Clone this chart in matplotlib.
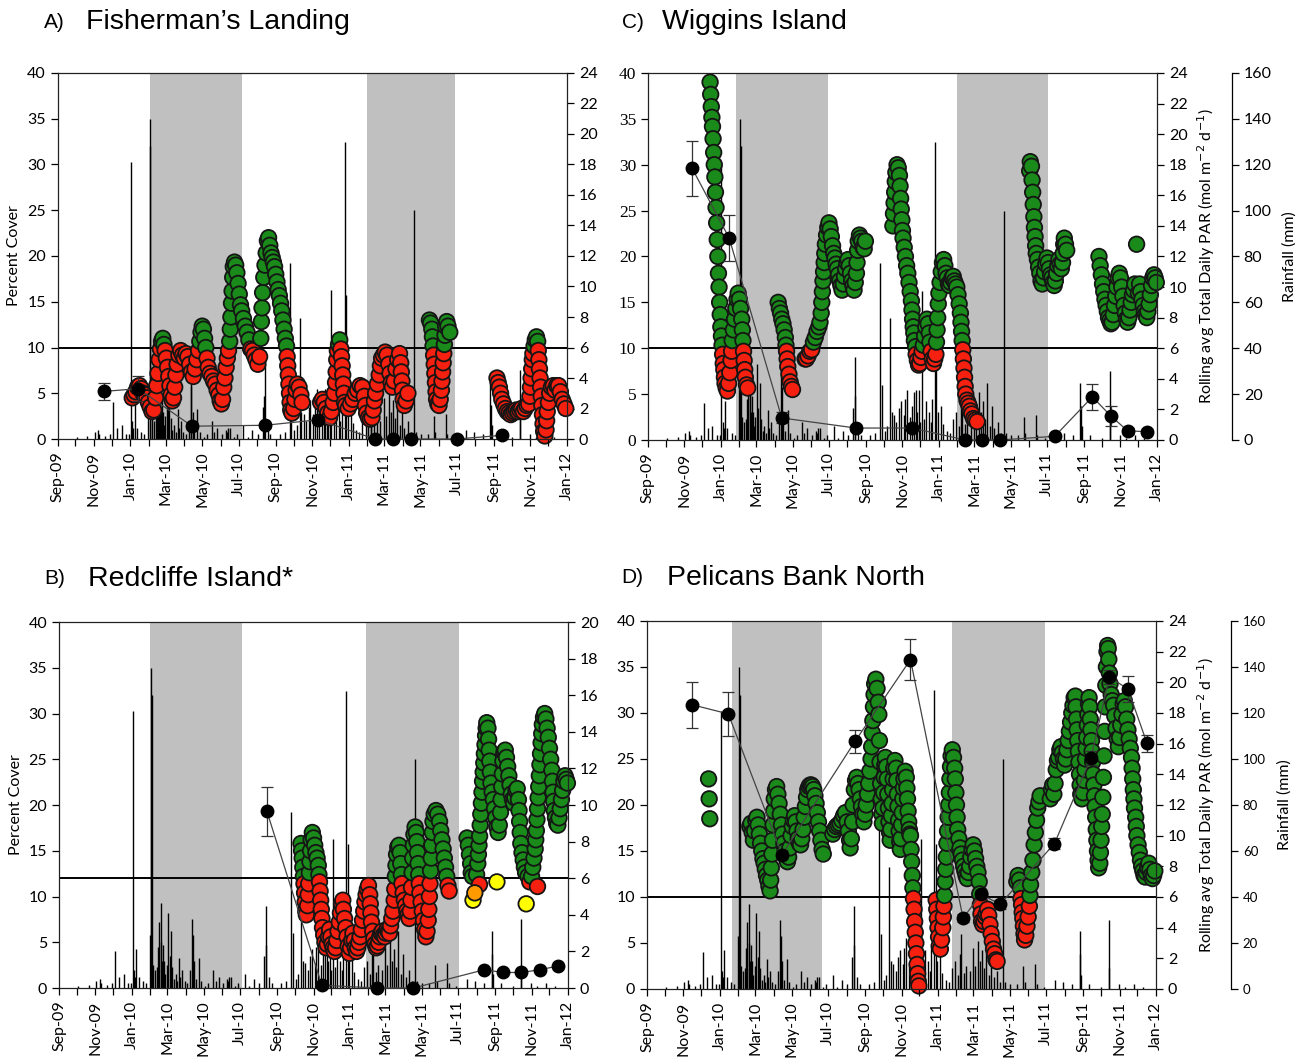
import numpy as np
from datetime import datetime
import matplotlib
matplotlib.use('Agg')
import matplotlib.pyplot as plt
import matplotlib.dates as mdates

plt.rcParams['font.family'] = ['Lato', 'DejaVu Sans']

# day offsets below are counted from 1 Sep 2009
T0 = mdates.date2num(datetime(2009, 9, 1))
X_MIN = mdates.date2num(datetime(2009, 9, 1))
X_MAX = mdates.date2num(datetime(2012, 1, 1))

GREEN = '#1a8a1a'
RED = '#f5200f'
SHADE = '#c0c0c0'

# ---------------- daily rainfall (mm), shared by all sites ----------------
RAIN_DAY = [32, 50, 62, 68, 70, 80, 88, 93, 100, 108, 115, 120, 123, 125, 127, 129,
            133, 140, 145, 152, 154, 155, 158, 161, 164, 166, 168, 170, 171, 173, 174,
            176, 178, 180, 183, 185, 187, 189, 192, 195, 198, 201, 203, 206, 210, 215,
            220, 223, 224, 226, 229, 234, 238, 245, 250, 258, 262, 267, 275, 281, 283,
            285, 288, 295, 300, 311, 318, 326, 335, 343, 346, 347, 352, 356, 372, 380,
            389, 391, 396, 400, 405, 408, 412, 416, 420, 423, 428, 430, 434, 438, 442,
            445, 448, 450, 453, 456, 458, 462, 466, 470, 473, 476, 481, 483, 486, 490,
            494, 500, 505, 510, 516, 520, 524, 525, 530, 534, 540, 546, 549, 554, 557,
            561, 564, 568, 572, 576, 580, 586, 591, 596, 600, 608, 620, 629, 632, 649,
            652, 665, 683, 697, 712, 724, 725, 726, 740, 760, 773, 774, 790, 800, 815, 830]
RAIN_MM = [1, 1.5, 3, 4, 2, 1.2, 2, 16, 5, 6, 2, 2, 121, 8, 5, 17,
           5, 3, 2, 23, 140, 128, 10, 8, 9, 18, 29, 20, 37, 12, 19,
           12, 6, 10, 33, 14, 25, 9, 4, 6, 3, 13, 5, 8, 3, 2,
           8, 30, 23, 12, 4, 13, 3, 1, 2, 8, 3, 5, 2, 4, 3,
           5, 5, 1, 2, 6, 1, 4, 2, 14, 19, 36, 5, 2, 2, 3,
           77, 24, 4, 6, 53, 12, 11, 8, 14, 17, 11, 18, 22, 10, 15,
           21, 22, 12, 22, 8, 65, 9, 17, 12, 8, 18, 130, 63, 12, 15,
           7, 4, 3, 9, 12, 6, 15, 24, 7, 10, 8, 18, 10, 21, 12,
           17, 9, 25, 6, 15, 5, 8, 3, 100, 3, 2, 2, 10, 3, 11,
           2, 1, 4, 3, 2, 25, 15, 6, 2, 1, 30, 9, 2, 1, 2, 1]

# ---------------- A) Fisherman's Landing ----------------
A_PAR_DAY = [125, 128, 131, 134, 137, 140, 143, 146, 149, 152, 155, 158, 161, 164, 166, 168,
             170, 172, 174, 176, 178, 180, 182, 184, 186, 188, 190, 192, 194, 196, 198, 200,
             203, 206, 209, 212, 215, 218, 221, 224, 227, 230, 233, 236, 238, 240, 242, 244,
             246, 248, 250, 252, 255, 258, 261, 264, 267, 270, 272, 274, 276, 278, 280, 282,
             284, 286, 288, 289, 290, 291, 292, 293, 294, 296, 298, 300, 302, 304, 306, 308,
             311, 314, 317, 320, 323, 326, 329, 332, 335, 338, 340, 341, 342, 343, 345, 347,
             349, 351, 353, 355, 357, 359, 361, 363, 365, 367, 369, 371, 373, 375, 377, 379,
             381, 383, 384, 385, 386, 387, 388, 389, 390, 392, 395, 397, 399, 401, 404, 407, 409,
             440, 443, 446, 449, 452, 455, 458, 461, 463, 465, 466, 467, 468, 470, 472, 474,
             475, 476, 477, 478, 479, 480, 482, 486, 490, 494, 498, 502, 506, 510, 513, 515,
             517, 520, 523, 526, 528, 530, 532, 535, 538, 540, 542, 545, 548, 551, 554, 556,
             558, 560, 563, 566, 569, 572, 574, 575, 576, 577, 578, 580, 583, 586,
             622, 624, 626, 627, 628, 629, 630, 631, 632, 633, 634, 636, 638, 640, 642, 643,
             644, 645, 646, 647, 648, 649, 651, 653, 656,
             735, 737, 739, 741, 743, 746, 749, 752, 755, 758, 761, 764, 767, 770, 773, 776,
             779, 782, 785, 788, 790, 791, 792, 793, 794, 795, 797, 799, 801, 803, 804, 805,
             806, 807, 808, 809, 810, 811, 812, 813, 815, 817, 818, 819, 821, 823, 826, 829,
             832, 835, 838, 841, 844, 847, 850]
A_PAR = [2.7, 2.9, 3.1, 3.4, 3.5, 3.3, 3.0, 2.9, 2.7, 2.4, 2.1, 1.8, 1.9, 2.7, 3.5, 4.3,
         5.2, 5.9, 6.4, 6.6, 6.2, 5.8, 5.3, 4.7, 4.1, 3.5, 2.9, 2.5, 2.7, 3.4, 4.2, 4.9,
         5.5, 5.8, 5.5, 5.3, 5.6, 5.4, 4.9, 4.4, 4.1, 4.6, 5.2, 5.8, 6.4, 7.0, 7.4, 7.2,
         6.6, 6.0, 5.3, 4.7, 4.3, 4.1, 3.8, 3.6, 3.2, 2.9, 2.5, 2.3, 2.6, 3.4, 4.0, 4.7,
         5.3, 5.8, 6.4, 7.2, 8.0, 8.9, 9.7, 10.6, 11.3, 11.6, 11.4, 10.9, 10.2, 9.5, 8.8, 8.4,
         7.9, 7.4, 7.0, 6.5, 5.9, 5.8, 5.5, 5.2, 4.9, 5.4, 6.6, 7.7, 8.6, 9.6, 10.6, 11.4,
         12.2, 13.0, 13.2, 12.7, 12.2, 11.9, 11.6, 11.3, 10.8, 10.3, 9.8, 9.4, 8.9, 8.4, 7.8, 7.2,
         6.6, 6.1, 5.4, 4.8, 4.2, 3.6, 3.0, 2.4, 1.9, 1.7, 2.0, 2.6, 3.2, 3.6, 3.4, 2.9, 2.4,
         2.4, 2.6, 2.4, 2.0, 1.7, 1.4, 1.8, 2.4, 3.0, 3.7, 4.4, 5.2, 5.8, 6.2, 6.5, 5.9,
         5.4, 4.8, 4.2, 3.6, 3.0, 2.4, 2.2, 2.0, 2.3, 2.6, 3.0, 3.2, 3.5, 3.4, 2.8, 2.2,
         1.7, 1.4, 1.3, 1.4, 1.9, 2.5, 3.0, 3.6, 4.2, 4.8, 5.3, 5.5, 5.7, 5.5, 4.9, 4.3,
         3.7, 3.4, 3.8, 4.6, 5.2, 5.6, 5.0, 4.4, 3.8, 3.2, 2.6, 2.2, 2.5, 3.0,
         7.8, 7.6, 7.2, 6.7, 6.1, 5.5, 4.9, 4.3, 3.7, 3.1, 2.6, 2.3, 2.2, 2.6, 3.2, 3.8,
         4.4, 5.0, 5.6, 6.2, 6.8, 7.4, 7.7, 7.4, 7.0,
         4.0, 3.7, 3.4, 3.0, 2.6, 2.3, 2.0, 1.8, 1.7, 1.6, 1.7, 1.8, 1.9, 1.8, 1.9, 2.0,
         1.8, 2.0, 2.2, 2.3, 2.8, 3.4, 4.0, 4.6, 5.2, 5.6, 6.1, 6.5, 6.7, 6.4, 5.8, 5.2,
         4.6, 4.0, 3.4, 2.8, 2.2, 1.6, 1.0, 0.5, 0.2, 0.6, 1.2, 1.8, 2.4, 3.0, 3.4, 3.5,
         3.2, 3.5, 3.5, 3.1, 2.6, 2.3, 2.0]
A_COVER_DATE = ['2009-11-17', '2010-01-14', '2010-04-14', '2010-08-14', '2010-11-11',
                '2011-02-14', '2011-03-16', '2011-04-15', '2011-07-01', '2011-09-14']
A_COVER = [5.2, 5.5, 1.4, 1.5, 2.1, 0.0, 0.0, 0.0, 0.0, 0.4]
A_COVER_ERR = [0.95, 1.4, 0.3, 0.3, 0.3, 0, 0, 0, 0, 0.2]
A_SHADE = [('2010-02-03', '2010-07-07'), ('2011-01-31', '2011-06-28')]

# ---------------- B) Redcliffe Island ----------------
B_PAR_DAY = [405, 406, 407, 408, 409, 410, 411, 412, 413, 414, 416, 417, 418, 419, 420, 421,
             422, 424, 426, 428, 430, 432, 434, 435, 436, 437, 438, 439, 440, 441, 443, 445,
             447, 449, 451, 453, 455, 457, 459, 461, 463, 465, 467, 469, 471, 473, 475, 476,
             478, 480, 482, 484, 486, 488, 490, 492, 494, 496, 498, 500, 502, 504, 506, 508,
             510, 512, 514, 516, 518, 520, 521, 522, 523, 525, 527, 529, 531, 533, 535, 537,
             539, 541, 543, 545, 547, 549, 551, 553, 555, 557, 559, 561, 562, 563, 564, 565,
             567, 569, 571, 572, 573, 574, 576, 578, 580, 582, 584, 586, 588, 589, 590, 591,
             592, 593, 594, 596, 598, 599, 600, 601, 602, 603, 604, 606, 608, 610, 612, 614,
             616, 618, 619, 620, 621, 622, 623, 624, 625, 626, 628, 631, 634, 637, 639, 641,
             643, 645, 647, 649, 651, 653,
             683, 685, 687, 689, 690, 692, 699, 701, 702, 703, 704, 705, 706, 707, 708, 709,
             710, 711, 712, 713, 714, 715, 716, 718, 719, 720, 721, 722, 723, 725, 727, 729,
             731, 733, 735, 737, 739, 740, 741, 742, 743, 745, 747, 749, 751, 753, 755, 757,
             759, 761, 763, 765, 767, 769, 770, 771, 772, 773, 775, 777, 779, 781, 785, 788,
             791, 793, 795, 797, 798, 799, 800, 801, 802, 803, 804, 805, 806, 807, 808, 809,
             811, 813, 815, 817, 819, 821, 823, 825, 826, 827, 828, 829, 831, 833, 835, 837,
             839, 841, 843, 845, 847, 849, 851]
B_PAR = [7.9, 7.5, 7.1, 6.6, 6.1, 5.7, 5.2, 4.7, 4.2, 4.0, 4.5, 5.1, 5.7, 6.3, 6.9, 7.5,
         8.1, 8.5, 8.2, 7.8, 7.4, 7.1, 6.7, 6.2, 5.8, 5.3, 4.8, 4.3, 3.8, 3.3, 2.9, 2.5,
         2.2, 2.4, 2.8, 3.2, 2.8, 2.4, 2.2, 2.0, 2.2, 2.6, 3.1, 3.6, 4.1, 4.6, 4.8, 4.3,
         3.8, 3.3, 2.8, 2.3, 1.9, 2.2, 2.6, 3.0, 2.6, 2.2, 2.0, 2.2, 2.5, 2.8, 3.2, 3.7,
         4.2, 4.7, 5.1, 5.4, 5.6, 5.1, 4.6, 4.1, 3.6, 3.1, 2.7, 2.4, 2.2, 2.3, 2.5, 2.8,
         3.0, 3.1, 2.9, 2.8, 3.0, 3.2, 3.1, 3.0, 3.4, 3.8, 4.2, 4.8, 5.4, 6.1, 6.7, 7.3,
         7.7, 7.8, 7.4, 6.8, 6.2, 5.7, 5.2, 4.8, 4.5, 4.2, 4.0, 3.8, 4.2, 4.8, 5.5, 6.3,
         7.1, 7.8, 8.4, 8.8, 8.5, 8.0, 7.4, 6.8, 6.2, 5.7, 5.2, 4.7, 4.2, 3.7, 3.2, 2.8,
         3.1, 3.7, 4.3, 5.0, 5.7, 6.4, 7.1, 7.8, 8.5, 9.1, 9.5, 9.7, 9.5, 9.1, 8.6, 8.1,
         7.6, 7.1, 6.6, 6.1, 5.6, 5.3,
         8.2, 7.8, 7.3, 6.8, 6.3, 6.1, 6.2, 6.8, 7.3, 7.8, 8.3, 8.9, 9.5, 10.1, 10.7, 11.3,
         11.8, 12.3, 12.8, 13.3, 13.8, 14.2, 14.5, 14.2, 13.6, 13.0, 12.4, 11.8, 11.2, 10.7, 10.3, 9.8,
         9.3, 8.8, 8.5, 8.9, 9.6, 10.3, 11.0, 11.7, 12.4, 12.9, 13.0, 12.6, 12.1, 11.6, 11.1, 10.6,
         10.3, 10.1, 10.4, 10.8, 10.9, 10.3, 9.7, 9.1, 8.5, 7.9, 7.4, 7.0, 6.6, 6.3, 6.1, 5.8,
         6.1, 6.6, 7.1, 7.6, 8.1, 8.6, 9.2, 9.8, 10.4, 11.0, 11.6, 12.2, 12.8, 13.4, 13.9, 14.4,
         14.8, 15.0, 14.7, 14.2, 13.7, 13.1, 12.5, 11.9, 11.3, 10.7, 10.2, 9.7, 9.3, 9.0, 8.9, 9.3,
         9.8, 10.3, 10.8, 11.3, 11.6, 11.4, 11.2]
# days flagged in yellow / orange at Redcliffe
B_FLAG_DAY = [693, 696, 733, 782]
B_FLAG_PAR = [4.8, 5.2, 5.8, 4.6]
B_FLAG_COLOR = ['#ffff00', '#ff9a00', '#ffff00', '#ffff00']
B_RED_DAY = [703, 800]
B_RED_PAR = [5.7, 5.6]
B_COVER_DATE = ['2010-08-15', '2010-11-15', '2011-02-16', '2011-04-17', '2011-08-14',
                '2011-09-14', '2011-10-15', '2011-11-15', '2011-12-15']
B_COVER = [19.3, 0.3, 0.0, 0.0, 2.0, 1.7, 1.7, 2.0, 2.4]
B_COVER_ERR = [2.7, 0, 0, 0, 0, 0, 0, 0, 0]
B_SHADE = [('2010-02-01', '2010-07-05'), ('2011-01-28', '2011-07-03')]

# ---------------- C) Wiggins Island ----------------
C_PAR_DAY = [104, 105, 106, 107, 108, 109, 110, 111, 112, 113, 114, 115, 116, 117, 118, 119,
             120, 121, 122, 123, 124, 125, 126, 127, 128, 129, 131, 133, 135, 137, 139, 140,
             141, 143, 145, 147, 149, 151, 153, 155, 157, 158, 159, 160, 161, 162, 163, 165, 167,
             218, 220, 222, 224, 226, 228, 230, 231, 232, 233, 234, 236, 238, 240, 242,
             263, 265, 268, 271, 274, 277, 280, 283, 286, 288, 290, 291, 292, 293, 294, 295,
             296, 297, 299, 301, 303, 305, 307, 309, 311, 313, 315, 317, 319, 321, 323, 325,
             327, 329, 331, 333, 335, 337, 339, 341, 343, 345, 347, 349, 350, 351, 352, 354,
             356, 358, 360, 362, 364,
             410, 411, 412, 413, 414, 415, 417, 419, 421, 422, 423, 424, 425, 426, 427, 429,
             431, 433, 435, 437, 439, 441, 442, 443, 444, 445, 446, 448, 449, 451, 453, 455,
             457, 459, 461, 463, 465, 467, 469, 471, 472, 474, 476, 478, 480, 482, 483, 484,
             485, 486, 487, 489, 491, 493, 495, 497, 499, 501, 503, 505, 507, 509, 511, 513,
             515, 517, 519, 521, 523, 524, 525, 526, 527, 528, 529, 530, 531, 532, 534, 536,
             538, 540, 542, 545, 548, 551,
             639, 640, 642, 643, 644, 645, 646, 647, 648, 649, 650, 652, 654, 656, 658, 660,
             662, 664, 666, 668, 670, 672, 674, 676, 678, 680, 682, 684, 686, 688, 690, 692,
             694, 695, 696, 697, 699, 701,
             755, 757, 759, 761, 763, 765, 767, 769, 771, 773, 775, 777, 779, 781, 783, 785,
             787, 789, 791, 793, 795, 797, 799, 801, 803, 805, 807, 809, 811, 813, 815, 818,
             821, 823, 825, 827, 829, 831, 833, 835, 837, 839, 841, 843, 845, 847, 849, 851]
C_PAR = [23.4, 22.6, 21.8, 21.1, 20.5, 19.7, 18.8, 18.0, 17.2, 16.2, 15.2, 14.2, 13.1, 12.0, 10.9, 10.0,
         9.0, 8.2, 7.4, 6.8, 6.2, 5.6, 5.0, 4.6, 4.1, 3.7, 3.4, 3.2, 3.7, 4.4, 5.2, 5.8,
         6.5, 7.2, 7.9, 8.6, 9.2, 9.6, 9.2, 8.6, 7.9, 7.2, 6.5, 5.8, 5.2, 4.6, 4.1, 3.6, 3.4,
         9.0, 8.6, 8.3, 7.9, 7.6, 7.2, 6.7, 6.2, 5.8, 5.3, 4.8, 4.3, 3.8, 3.5, 3.3,
         5.3, 5.3, 5.5, 5.8, 5.9, 6.4, 6.7, 7.1, 7.4, 7.7, 8.3, 9.0, 9.7, 10.4, 11.0, 11.6,
         12.2, 12.8, 13.4, 13.9, 14.2, 13.8, 13.3, 12.7, 12.2, 11.9, 11.5, 11.2, 10.8, 10.4, 10.1, 9.8,
         10.2, 10.7, 11.2, 11.6, 11.8, 11.4, 10.9, 10.4, 10.1, 9.8, 10.3, 10.9, 11.6, 12.4, 13.0, 13.4,
         13.2, 13.0, 12.6, 12.5, 13.0,
         14.0, 14.8, 15.5, 16.2, 16.9, 17.5, 18.0, 17.8, 17.3, 16.6, 15.8, 15.1, 14.4, 13.7, 13.2, 12.6,
         12.0, 11.4, 10.9, 10.3, 9.7, 9.1, 8.5, 7.9, 7.4, 7.0, 6.5, 6.1, 5.6, 5.2, 4.9, 5.0,
         5.4, 5.8, 6.2, 6.8, 7.4, 7.9, 7.6, 7.0, 6.4, 5.8, 5.3, 5.0, 5.3, 5.6, 6.4, 7.2,
         8.0, 8.9, 9.6, 10.3, 11.0, 11.6, 11.8, 11.4, 10.9, 10.6, 10.2, 10.1, 10.3, 10.6, 10.7, 10.4,
         10.2, 10.0, 9.5, 8.9, 8.3, 7.7, 7.1, 6.5, 5.9, 5.3, 4.7, 4.1, 3.5, 3.0, 2.6, 2.4,
         2.2, 1.9, 1.7, 1.4, 1.3, 1.2,
         17.6, 18.2, 17.9, 17.0, 16.2, 15.4, 14.6, 13.9, 13.3, 12.7, 12.2, 11.8, 11.3, 10.9, 10.4, 10.2,
         10.6, 11.0, 11.5, 11.9, 11.6, 11.2, 10.8, 10.6, 10.3, 10.1, 10.4, 10.9, 11.4, 11.8, 11.5, 11.2,
         11.6, 12.2, 12.8, 13.2, 12.8, 12.4,
         12.0, 11.4, 10.8, 10.2, 9.7, 9.2, 8.8, 8.4, 8.0, 7.8, 7.6, 7.7, 8.2, 8.8, 9.4, 10.0,
         10.6, 10.9, 10.6, 10.0, 9.4, 8.8, 8.3, 7.9, 7.7, 8.0, 8.5, 9.0, 9.5, 9.8, 10.2, 12.8,
         9.6, 10.2, 9.7, 9.2, 8.8, 8.4, 8.2, 8.0, 8.4, 8.9, 9.5, 10.1, 10.6, 10.8, 10.6, 10.3]
C_COVER_DATE = ['2009-11-14', '2010-01-15', '2010-04-13', '2010-08-15', '2010-11-17',
                '2011-02-14', '2011-03-14', '2011-04-14', '2011-07-14', '2011-09-15',
                '2011-10-16', '2011-11-13', '2011-12-15']
C_COVER = [29.6, 22.0, 2.4, 1.3, 1.3, 0.0, 0.0, 0.0, 0.4, 4.7, 2.6, 1.0, 0.9]
C_COVER_ERR = [3.0, 2.5, 0.6, 0.3, 0.3, 0, 0, 0, 0.2, 1.4, 1.1, 0.3, 0.3]
C_SHADE = [('2010-01-26', '2010-06-29'), ('2011-01-31', '2011-07-03')]

# ---------------- D) Pelicans Bank North ----------------
D_PAR_DAY = [103, 104, 105,
             172, 174, 176, 178, 180, 182, 184, 186, 188, 190, 192, 194, 196, 198, 200, 202,
             204, 206, 207, 208, 209, 210, 211, 212, 213, 215, 217, 219, 221, 223, 225, 227,
             229, 231, 233, 235, 237, 239, 241, 243, 245, 247, 249, 251, 253, 255, 257, 259,
             261, 263, 265, 267, 269, 271, 273, 275, 277, 279, 281, 283, 285, 287, 289, 291,
             293, 295,
             311, 314, 317, 320, 323, 326, 329, 332, 335, 337, 339, 340, 342, 344, 345, 347,
             349, 351, 353, 355, 357, 359, 361, 363, 365, 367, 369, 371, 373, 375, 376, 377,
             378, 379, 380, 381, 383, 385, 387,
             388, 389, 390, 391, 392, 393, 394, 395, 396, 397, 398, 399, 401, 402, 403, 404,
             405, 406, 407, 408, 409, 410, 411, 412, 413, 415, 417, 418, 419, 420, 421, 422,
             423, 424, 425, 426, 427, 428, 429, 430, 432, 434, 435, 436, 437, 438, 439, 440,
             441, 442, 443, 444, 445, 446, 447, 448, 449, 450, 451, 452, 453, 454, 455,
             484, 485, 486, 487, 488, 489, 491, 493, 495, 496, 497, 498, 499, 500, 501, 502,
             503, 504, 505, 506, 507, 508, 509, 511, 513, 515, 516, 517, 518, 519, 520, 522,
             524, 526, 528, 530, 532, 534, 536, 538, 540, 542, 544, 546, 548, 550, 552, 554,
             556, 557, 558, 559, 560, 562, 564, 566, 568, 570, 572, 574, 576, 578, 580, 582,
             584, 586,
             619, 621, 623, 625, 626, 627, 628, 629, 630, 631, 632, 634, 636, 638, 640, 641,
             642, 644, 646, 648, 650, 652, 654, 656, 658,
             675, 677, 679, 681, 683, 685, 687, 689, 691, 693, 695, 697, 699, 701, 703, 705,
             707, 709, 711, 713, 715, 717, 718, 719, 720, 721, 722, 723, 724, 725, 726, 728,
             730, 732, 733, 734, 735, 736, 737, 738, 739, 740, 741, 742, 743, 744, 745, 746,
             747, 748, 749, 750, 751, 752, 753, 754, 755, 756, 758, 759, 760, 761, 762, 763,
             764, 765, 766, 767, 768, 769, 770, 771, 772, 773, 774, 775, 777, 779, 781, 783,
             785, 787, 789, 791, 793, 795, 797, 799, 801, 803, 805, 807, 809, 811, 812, 813,
             814, 815, 816, 818, 819, 820, 822, 824, 826, 828, 830, 832, 834, 836, 838, 840,
             842, 844, 846, 848, 850]
D_PAR = [13.7, 12.4, 11.1,
         10.6, 10.8, 10.2, 9.7, 10.3, 11.0, 11.2, 10.7, 10.1, 9.5, 9.0, 8.5, 8.2, 7.8, 7.4, 7.1,
         6.7, 6.4, 7.1, 7.9, 8.8, 9.7, 10.7, 11.6, 12.4, 13.0, 13.2, 12.7, 12.1, 11.4, 10.7, 10.1,
         9.5, 9.0, 8.6, 8.3, 8.6, 9.2, 10.0, 10.6, 11.0, 11.3, 10.9, 10.3, 9.8, 9.5, 9.4, 9.8,
         10.4, 11.2, 11.9, 12.5, 13.0, 13.2, 13.3, 13.3, 13.2, 13.0, 12.6, 12.1, 11.5, 10.9, 10.3, 9.7,
         9.1, 8.8,
         10.1, 10.4, 10.6, 10.7, 10.8, 11.0, 11.3, 11.5, 10.9, 10.3, 9.7, 9.2, 9.8, 10.9, 12.0, 13.0,
         13.6, 13.8, 13.4, 13.0, 12.4, 11.9, 11.4, 10.9, 11.4, 12.0, 12.7, 13.4, 14.2, 15.0, 15.8, 16.7,
         17.5, 18.4, 19.2, 19.9, 20.2, 19.6, 18.7,
         17.9, 16.2, 14.8, 13.4, 12.4, 11.4, 10.8, 11.8, 12.8, 13.8, 14.6, 15.1, 14.5, 13.7, 12.7, 11.8,
         10.9, 10.2, 9.7, 10.4, 11.3, 12.1, 13.0, 13.7, 14.4, 14.9, 14.4, 13.6, 12.7, 11.9, 11.0, 10.3,
         9.6, 9.1, 9.8, 10.7, 11.5, 12.4, 13.1, 13.7, 14.2, 13.8, 13.1, 12.4, 11.6, 10.9, 10.4, 10.1,
         10.0, 9.1, 8.3, 7.4, 6.6, 5.9, 5.2, 4.4, 3.7, 3.0, 2.3, 1.6, 1.0, 0.5, 0.2,
         5.8, 5.2, 4.6, 4.0, 3.4, 2.8, 2.6, 3.2, 4.0, 4.7, 5.4, 6.1, 7.0, 7.8, 8.6, 9.5,
         10.3, 11.2, 12.0, 12.8, 13.7, 14.5, 15.2, 15.6, 15.1, 14.4, 13.7, 12.8, 12.0, 11.2, 10.4, 9.8,
         9.2, 8.8, 8.4, 8.0, 7.7, 7.4, 7.2, 7.6, 8.0, 8.6, 9.1, 9.4, 9.0, 8.5, 8.0, 7.6,
         7.0, 6.2, 5.5, 4.9, 4.4, 4.2, 4.4, 4.7, 4.9, 5.2, 4.8, 4.2, 3.6, 3.1, 2.6, 2.3,
         1.9, 1.8,
         7.0, 7.4, 7.1, 6.6, 5.9, 5.5, 5.0, 4.6, 4.1, 3.6, 3.2, 3.5, 4.1, 4.7, 5.4, 6.1,
         6.8, 7.6, 8.4, 9.4, 10.2, 11.0, 11.8, 12.2, 12.6,
         12.4, 13.0, 13.3, 12.7, 13.4, 14.3, 14.9, 15.1, 15.6, 15.8, 15.4, 15.0, 14.6, 15.0, 15.6, 16.2,
         16.8, 17.4, 18.0, 18.5, 19.0, 19.1, 18.4, 17.6, 16.9, 16.2, 15.5, 14.8, 14.0, 13.3, 12.7, 12.4,
         12.8, 13.6, 14.3, 15.0, 15.7, 16.4, 17.2, 17.9, 18.6, 19.0, 18.4, 17.6, 16.9, 16.2, 15.5, 14.8,
         14.0, 13.3, 12.6, 11.9, 11.2, 10.4, 9.7, 9.0, 8.4, 7.9, 8.2, 8.9, 9.7, 10.6, 11.4, 12.5,
         13.8, 15.2, 16.8, 18.4, 19.8, 21.0, 22.0, 22.4, 22.2, 21.5, 20.6, 19.9, 19.2, 18.8, 18.5, 17.8,
         17.0, 16.3, 15.8, 16.4, 17.2, 17.9, 18.6, 18.8, 18.4, 17.6, 16.9, 16.3, 15.7, 15.1, 14.4, 13.7,
         13.0, 12.4, 11.8, 11.2, 10.6, 10.0, 9.4, 8.9, 8.4, 8.0, 7.7, 7.4, 7.3, 7.6, 7.9, 8.2,
         7.8, 7.4, 7.2, 7.4, 7.7]
D_COVER_DATE = ['2009-11-15', '2010-01-15', '2010-04-15', '2010-08-15', '2010-11-16',
                '2011-02-12', '2011-03-14', '2011-04-15', '2011-07-15', '2011-09-14',
                '2011-10-15', '2011-11-15', '2011-12-17']
D_COVER = [30.9, 29.9, 14.6, 26.9, 35.8, 7.7, 10.3, 9.2, 15.8, 25.1, 33.9, 32.6, 26.7]
D_COVER_ERR = [2.5, 2.4, 0.5, 1.3, 2.2, 0.4, 0.5, 0.5, 0.6, 0.8, 0.8, 1.4, 0.9]
D_SHADE = [('2010-01-21', '2010-06-21'), ('2011-01-25', '2011-06-29')]

PAR_THRESHOLD = 6
DOT_SIZE = 125


def draw_panel(fig, rect, par_day, par, par_top, cover_date, cover, cover_err, shade,
               rain_axis=False, rain_fs=11, left_label=False, left_serif=False):
    ax = fig.add_axes(rect)
    ax_rain = ax.twinx()
    ax_par = ax.twinx()
    ax_rain.set_zorder(1)
    ax_par.set_zorder(2)
    ax.set_zorder(3)
    for a in (ax, ax_rain, ax_par):
        a.patch.set_visible(False)

    # wet-season shading and daily rainfall
    for start, end in shade:
        ax_rain.axvspan(mdates.datestr2num(start), mdates.datestr2num(end),
                        color=SHADE, lw=0, zorder=0)
    ax_rain.vlines(T0 + np.asarray(RAIN_DAY), 0, RAIN_MM, color='black', lw=1.0, zorder=1)
    ax_rain.set_ylim(0, 160)

    # rolling PAR, coloured against the light requirement
    x_par = T0 + np.asarray(par_day)
    par = np.asarray(par)
    cols = np.where(par >= PAR_THRESHOLD, GREEN, RED)
    ax_par.axhline(PAR_THRESHOLD, color='black', lw=1.4, zorder=1)
    ax_par.scatter(x_par, par, s=DOT_SIZE, c=cols, edgecolors='#151515', linewidths=1.3,
                   zorder=2, clip_on=False)
    ax_par.set_ylim(0, par_top)
    ax_par.set_yticks(np.arange(0, par_top + 1, 2))

    # percent cover with standard errors
    x_cov = mdates.datestr2num(cover_date)
    ax.plot(x_cov, cover, color='#444444', lw=0.9, zorder=3, clip_on=False)
    ax.errorbar(x_cov, cover, yerr=cover_err, fmt='none', ecolor='#333333',
                elinewidth=0.9, capsize=4.5, capthick=0.9, zorder=3)
    ax.plot(x_cov, cover, 'o', color='black', ms=9, zorder=4, clip_on=False)
    ax.set_ylim(0, 40)
    ax.set_yticks(range(0, 41, 5))
    ax.set_xlim(X_MIN, X_MAX)

    ax.xaxis.set_major_locator(mdates.MonthLocator(bymonth=[1, 3, 5, 7, 9, 11]))
    ax.xaxis.set_minor_locator(mdates.MonthLocator())
    ax.xaxis.set_major_formatter(mdates.DateFormatter('%b-%y'))
    ax.tick_params(axis='x', which='both', direction='out', length=5, width=0.9,
                   labelsize=11.5, rotation=90, pad=4)
    if left_serif:
        ax.tick_params(axis='y', direction='out', length=5, width=0.9, labelsize=12.5,
                       labelfontfamily='Liberation Serif')
    else:
        ax.tick_params(axis='y', direction='out', length=5, width=0.9, labelsize=11.5)
    ax_par.tick_params(axis='y', direction='out', length=5, width=0.9, labelsize=11.5)

    for side in ('left', 'bottom', 'top'):
        ax.spines[side].set_linewidth(0.9)
        ax.spines[side].set_color('#222222')
    ax.spines['right'].set_visible(False)
    for side in ('left', 'bottom', 'top'):
        ax_par.spines[side].set_visible(False)
        ax_rain.spines[side].set_visible(False)
    ax_par.spines['right'].set_linewidth(0.9)
    ax_par.spines['right'].set_color('#222222')

    if rain_axis:
        ax_rain.spines['right'].set_position(('outward', 54))
        ax_rain.spines['right'].set_linewidth(0.9)
        ax_rain.set_yticks(range(0, 161, 20))
        ax_rain.tick_params(axis='y', direction='out', length=5, width=0.9, labelsize=rain_fs)
        ax_rain.set_ylabel('Rainfall (mm)', fontsize=11.5, labelpad=8)
        ax_par.set_ylabel('Rolling avg Total Daily PAR (mol m$^{-2}$ d$^{-1}$)',
                          fontsize=11.5, labelpad=6)
    else:
        ax_rain.spines['right'].set_visible(False)
        ax_rain.set_yticks([])

    if left_label:
        ax.set_ylabel('Percent Cover', fontsize=11.5, labelpad=4)
    return ax_par


fig = plt.figure(figsize=(12.98, 10.64), dpi=100)

draw_panel(fig, [0.0443, 0.5874, 0.3925, 0.3440], A_PAR_DAY, A_PAR, 24,
           A_COVER_DATE, A_COVER, A_COVER_ERR, A_SHADE, left_label=True)
draw_panel(fig, [0.4992, 0.5865, 0.3921, 0.3449], C_PAR_DAY, C_PAR, 24,
           C_COVER_DATE, C_COVER, C_COVER_ERR, C_SHADE, rain_axis=True, rain_fs=11.5,
           left_serif=True)
b_par_ax = draw_panel(fig, [0.0455, 0.0714, 0.3921, 0.3440], B_PAR_DAY, B_PAR, 20,
                      B_COVER_DATE, B_COVER, B_COVER_ERR, B_SHADE, left_label=True)
draw_panel(fig, [0.4985, 0.0705, 0.3921, 0.3459], D_PAR_DAY, D_PAR, 24,
           D_COVER_DATE, D_COVER, D_COVER_ERR, D_SHADE, rain_axis=True, rain_fs=9.5)

# Redcliffe: days drawn below the requirement and the flagged days
b_par_ax.scatter(T0 + np.asarray(B_RED_DAY), B_RED_PAR, s=DOT_SIZE, c=RED,
                 edgecolors='#151515', linewidths=1.3, zorder=3)
b_par_ax.scatter(T0 + np.asarray(B_FLAG_DAY), B_FLAG_PAR, s=DOT_SIZE, c=B_FLAG_COLOR,
                 edgecolors='#151515', linewidths=1.3, zorder=3)

# panel titles
titles = [(0.034, 0.979, 'A)', 0.066, 'Fisherman\u2019s Landing'),
          (0.479, 0.979, 'C)', 0.510, 'Wiggins Island'),
          (0.034, 0.456, 'B)', 0.068, 'Redcliffe Island*'),
          (0.479, 0.457, 'D)', 0.514, 'Pelicans Bank North')]
for xl, y, letter, xt, name in titles:
    fig.text(xl, y, letter, fontsize=15, family='Liberation Sans', va='center')
    fig.text(xt, y, name, fontsize=20.5, family='Liberation Sans', va='center')

fig.savefig('out.png', dpi=100, facecolor='white')
